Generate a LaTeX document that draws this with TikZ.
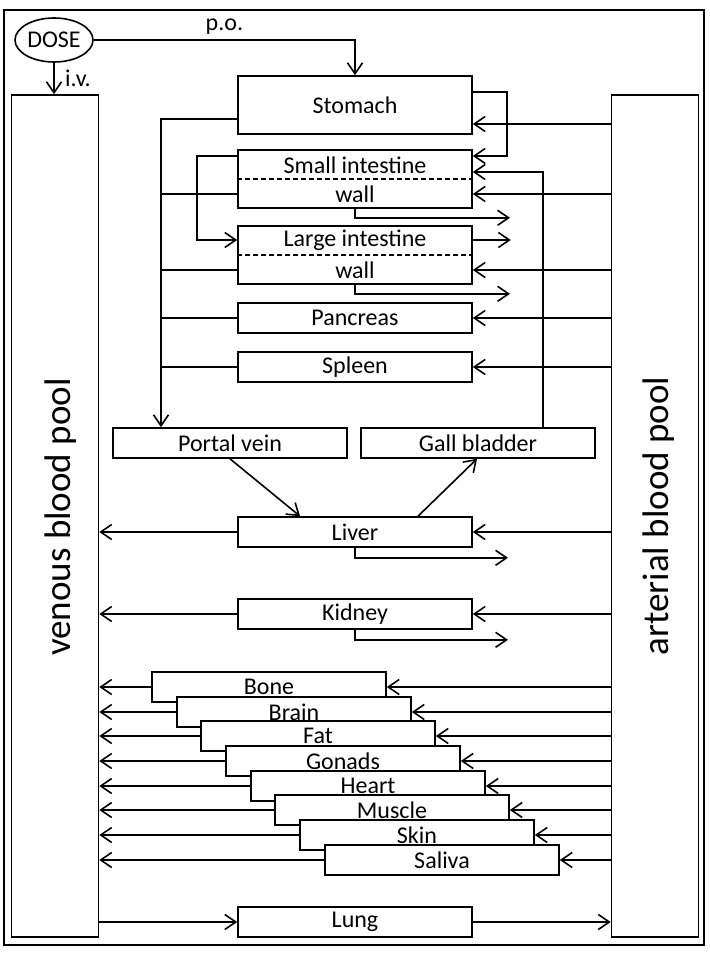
\documentclass[tikz,border=0pt]{standalone}
\usepackage{fontspec}
\setmainfont{Carlito}
\usepackage{tikz}
\usetikzlibrary{shapes,arrows.meta,positioning}

\begin{document}
\begin{tikzpicture}[x=1pt, y=-1pt, line width=1.6pt,
  >={Straight Barb[length=11pt,width=15pt]},
  font=\fontsize{24}{28}\selectfont,
  organ/.style={rectangle, draw, fill=white, minimum width=234pt, minimum height=30pt, inner sep=0pt},
  gut/.style={organ, minimum height=58pt},
  pool/.style={rectangle, draw, minimum width=87pt, minimum height=842pt},
  poollabel/.style={rotate=90, anchor=base, font=\fontsize{37}{44}\selectfont},
  gutlabel/.style={inner sep=0pt},
  split/.style={line width=1.3pt, dash pattern=on 5pt off 3pt}
]
  \useasboundingbox (0,0) rectangle (709,955);
  \draw (4,10) rectangle (704,945);

  % -- Dose and blood pools --
  \node[ellipse, draw, minimum width=78pt, minimum height=44pt, inner sep=0pt] (dose) at (54,40) {DOSE};
  \node[pool] (venous)   at (55,516)  {};
  \node[pool] (arterial) at (655,516) {};
  \node[poollabel] at (70,517)  {venous blood pool};
  \node[poollabel] at (668,516) {arterial blood pool};

  % -- Gut organs --
  \node[gut] (stomach) at (355,105) {Stomach};
  \node[gut] (smint)   at (355,179) {};
  \node[gutlabel] (smlab)  at (355,165) {Small intestine};
  \node[gutlabel] (smwall) at (355,194) {wall};
  \draw[split] (smint.west) -- (smint.east);
  \node[gut] (lgint)   at (355,255) {};
  \node[gutlabel] (lglab)  at (355,240) {Large intestine};
  \node[gutlabel] (lgwall) at (355,270) {wall};
  \draw[split] (lgint.west) -- (lgint.east);
  \node[organ] (pancreas) at (355,318) {Pancreas};
  \node[organ] (spleen)   at (355,367) {Spleen};
  \node[organ] (portal)   at (230,443) {Portal vein};
  \node[organ] (gall)     at (478,443) {Gall bladder};
  \node[organ] (liver)    at (355,532) {Liver};
  \node[organ] (kidney)   at (355,614) {Kidney};

  \coordinate (pvin)   at ([xshift=-69pt]portal.north);
  \coordinate (stoin)  at ([yshift=-19pt]stomach.east);

  % -- Dosing routes --
  \draw[->] (dose.east) -| node[pos=0.25, above=1pt] {p.o.} (stomach.north);
  \draw[->] (dose.south) -- (dose.south |- venous.north) node[midway, right=7pt] {i.v.};

  % -- Gut flows --
  \draw[->] (arterial.west |- stoin) -- (stoin);
  \draw[->] ([yshift=13pt]stomach.east) -- ++(34,0) |- ([yshift=23pt]smint.east);
  \draw[->] ([xshift=65pt]gall.north) |- ([yshift=7pt]smint.east);
  \draw[->] (arterial.west |- smwall) -- (smint.east |- smwall);
  \draw[->] (arterial.west |- lgwall) -- (lgint.east |- lgwall);
  \draw[->] (arterial.west |- pancreas) -- (pancreas.east);
  \draw[->] (arterial.west |- spleen) -- (spleen.east);
  \draw[->] ([yshift=23pt]smint.west) -- ++(-40,0) |- (lgint.west |- lglab);
  \draw[->] (smint.south) |- ++(155,9);
  \draw[->] (lgint.east |- lglab) -- ++(38,0);
  \draw[->] (lgint.south) |- ++(155,9);

  % -- Collection into the portal vein --
  \draw[->] ([yshift=-14pt]stomach.west) -| (pvin);
  \draw (smint.west |- smwall) -- (pvin |- smwall);
  \draw (lgint.west |- lgwall) -- (pvin |- lgwall);
  \draw (pancreas.west) -- (pvin |- pancreas);
  \draw (spleen.west) -- (pvin |- spleen);

  % -- Liver and kidney --
  \draw[->] (portal.south) -- ([xshift=-55pt]liver.north);
  \draw[->] ([xshift=63pt]liver.north) -- ([xshift=-1pt]gall.south);
  \draw[->] (liver.west) -- (venous.east |- liver);
  \draw[->] (arterial.west |- liver) -- (liver.east);
  \draw[->] (liver.south) |- ++(153,10);
  \draw[->] (kidney.west) -- (venous.east |- kidney);
  \draw[->] (arterial.west |- kidney) -- (kidney.east);
  \draw[->] (kidney.south) |- ++(153,10);

  % -- Other tissues --
  \node[organ] (bone)   at (269,687) {Bone};
  \node[organ] (brain)  at (294,712) {Brain};
  \node[organ] (fat)    at (318,736) {Fat};
  \node[organ] (gonads) at (343,761) {Gonads};
  \node[organ] (heart)  at (368,786) {Heart};
  \node[organ] (muscle) at (392,810) {Muscle};
  \node[organ] (skin)   at (417,835) {Skin};
  \node[organ] (saliva) at (442,860) {Saliva};

  \draw[->] (bone.west) -- (venous.east |- bone);
  \draw[->] (brain.west) -- (venous.east |- brain);
  \draw[->] (fat.west) -- (venous.east |- fat);
  \draw[->] (gonads.west) -- (venous.east |- gonads);
  \draw[->] (heart.west) -- (venous.east |- heart);
  \draw[->] (muscle.west) -- (venous.east |- muscle);
  \draw[->] (skin.west) -- (venous.east |- skin);
  \draw[->] (saliva.west) -- (venous.east |- saliva);
  \draw[->] (arterial.west |- bone) -- (bone.east);
  \draw[->] (arterial.west |- brain) -- (brain.east);
  \draw[->] (arterial.west |- fat) -- (fat.east);
  \draw[->] (arterial.west |- gonads) -- (gonads.east);
  \draw[->] (arterial.west |- heart) -- (heart.east);
  \draw[->] (arterial.west |- muscle) -- (muscle.east);
  \draw[->] (arterial.west |- skin) -- (skin.east);
  \draw[->] (arterial.west |- saliva) -- (saliva.east);

  % -- Lung --
  \node[organ] (lung) at (355,922) {Lung};
  \draw[->] (venous.east |- lung) -- (lung.west);
  \draw[->] (lung.east) -- (arterial.west |- lung);

\end{tikzpicture}
\end{document}
